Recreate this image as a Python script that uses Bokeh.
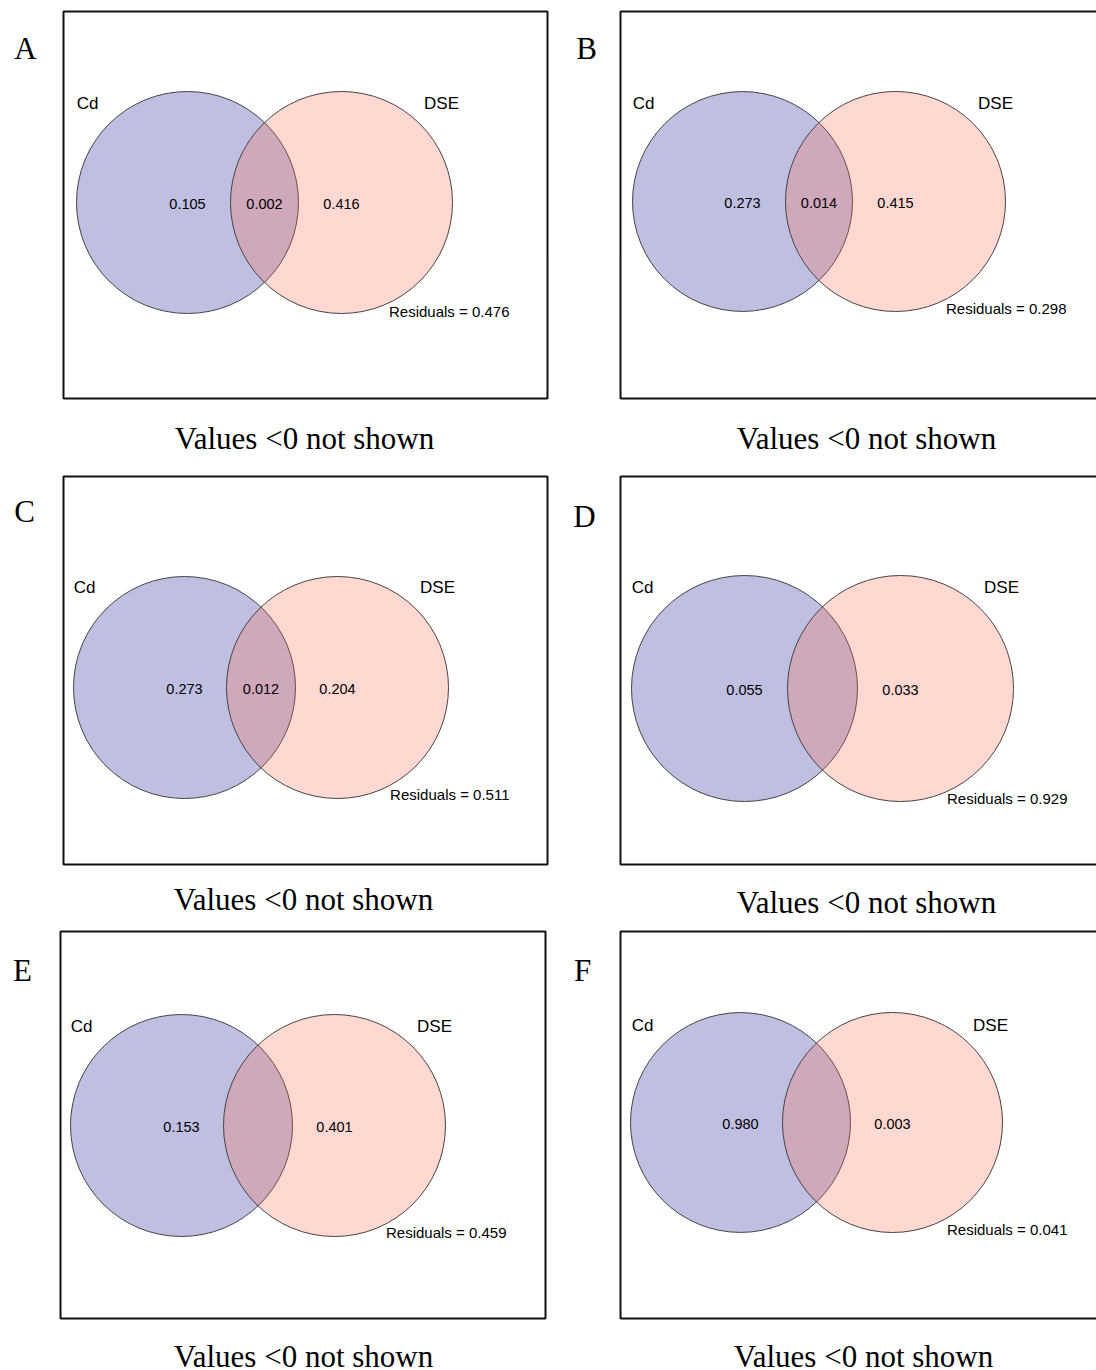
from bokeh.plotting import figure
from bokeh.models import Range1d, ColumnDataSource
from bokeh.core.properties import value
from bokeh.embed import file_html
from bokeh.resources import INLINE

# Variation partitioning results, one panel per treatment
panels = ["A", "B", "C", "D", "E", "F"]
set_names = ["Cd", "DSE"]
cd_only = [0.105, 0.273, 0.273, 0.055, 0.153, 0.980]
shared = [0.002, 0.014, 0.012, None, None, None]  # None: value < 0, not shown
dse_only = [0.416, 0.415, 0.204, 0.033, 0.401, 0.003]
residuals = [0.476, 0.298, 0.511, 0.929, 0.459, 0.041]
caption = "Values <0 not shown"

# Page layout in pixels (y grows downwards)
W, H = 1096, 1370
boxes = [  # left, top, right, bottom
    (63, 11, 547, 398), (620, 11, 1104, 398),
    (63, 476, 547, 864), (620, 476, 1104, 864),
    (60, 931, 545, 1318), (620, 931, 1104, 1318),
]
letter_pos = [(25, 48), (586, 48), (24, 511), (584, 516), (22, 970), (582, 970)]
cd_circ = [(187, 202, 111), (742, 201, 110), (184, 687, 111),
           (744, 688, 113), (181, 1125, 111), (740, 1122, 110)]
dse_circ = [(341, 202, 111), (895, 201, 110), (337, 687, 111),
            (900, 688, 113), (334, 1125, 111), (892, 1122, 110)]
cd_lab = [(87, 103), (643, 103), (84, 587), (642, 587), (81, 1026), (642, 1025)]
dse_lab = [(441, 103), (995, 103), (437, 587), (1001, 587), (434, 1026), (990, 1025)]
resid_pos = [(509, 311), (1066, 308), (509, 794), (1067, 798), (506, 1232), (1067, 1229)]
caption_pos = [(304, 438), (866, 438), (303, 899), (866, 902), (303, 1356), (863, 1356)]

p = figure(width=W, height=H, output_backend="svg", toolbar_location=None,
           x_range=Range1d(0, W), y_range=Range1d(H, 0), min_border=0)
p.axis.visible = False
p.grid.visible = False
p.outline_line_color = None
p.background_fill_color = "white"

# Frames
p.quad(left=[b[0] for b in boxes], right=[b[2] for b in boxes],
       top=[b[1] for b in boxes], bottom=[b[3] for b in boxes],
       fill_color=None, line_color="#111111", line_width=2)

# Venn circles: Cd first, DSE translucent on top
p.circle(x=[c[0] for c in cd_circ], y=[c[1] for c in cd_circ],
         radius=[c[2] for c in cd_circ], fill_color="darkblue", fill_alpha=0.25,
         line_color="#444444", line_width=1)
p.circle(x=[c[0] for c in dse_circ], y=[c[1] for c in dse_circ],
         radius=[c[2] for c in dse_circ], fill_color="tomato", fill_alpha=0.25,
         line_color="#444444", line_width=1)

sans = value("Liberation Sans")
serif = value("Liberation Serif")

# Set names
p.text(x=[q[0] for q in cd_lab], y=[q[1] for q in cd_lab], text=[set_names[0]] * 6,
       text_font=sans, text_font_size="17px", text_align="center",
       text_baseline="middle", text_color="black")
p.text(x=[q[0] for q in dse_lab], y=[q[1] for q in dse_lab], text=[set_names[1]] * 6,
       text_font=sans, text_font_size="17px", text_align="center",
       text_baseline="middle", text_color="black")

# Fraction values
vx, vy, vt = [], [], []
for i in range(6):
    vx.append(cd_circ[i][0]); vy.append(cd_circ[i][1] + 1); vt.append(f"{cd_only[i]:.3f}")
    vx.append(dse_circ[i][0]); vy.append(dse_circ[i][1] + 1); vt.append(f"{dse_only[i]:.3f}")
    if shared[i] is not None:
        vx.append((cd_circ[i][0] + dse_circ[i][0]) / 2)
        vy.append(cd_circ[i][1] + 1)
        vt.append(f"{shared[i]:.3f}")
vals = ColumnDataSource(dict(x=vx, y=vy, t=vt))
p.text(x="x", y="y", text="t", source=vals, text_font=sans, text_font_size="14.5px",
       text_align="center", text_baseline="middle", text_color="black")

# Residuals
p.text(x=[q[0] for q in resid_pos], y=[q[1] for q in resid_pos],
       text=[f"Residuals = {r:.3f}" for r in residuals],
       text_font=sans, text_font_size="15px", text_align="right",
       text_baseline="middle", text_color="black")

# Panel letters
p.text(x=[q[0] for q in letter_pos], y=[q[1] for q in letter_pos], text=panels,
       text_font=serif, text_font_size="31px", text_align="center",
       text_baseline="middle", text_color="black")

# Captions
p.text(x=[q[0] for q in caption_pos], y=[q[1] for q in caption_pos],
       text=[caption] * 6, text_font=serif, text_font_size="31px",
       text_align="center", text_baseline="middle", text_color="black")

open("out.html", "w").write(file_html(p, INLINE))
